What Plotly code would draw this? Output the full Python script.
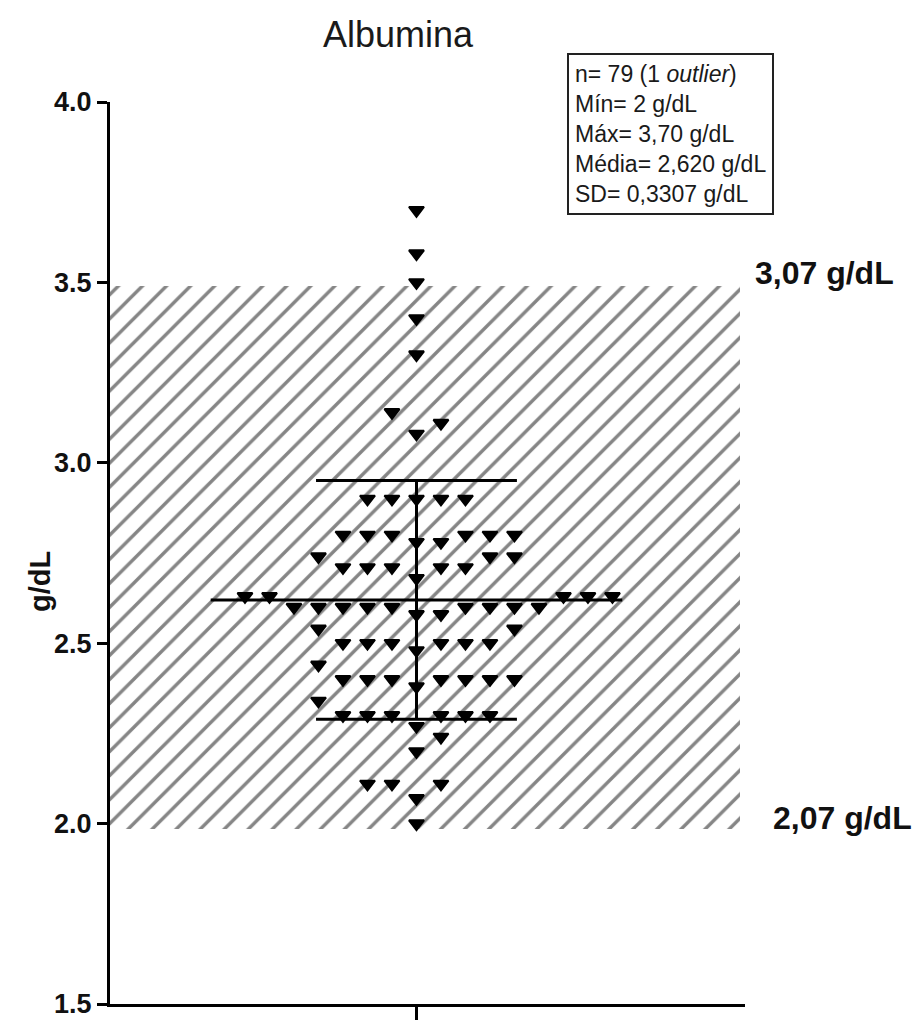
import numpy as np
import plotly.graph_objects as go

# ---------------- data ----------------
albumina_g_dl = [
    2.00,
    2.07, 2.11, 2.11, 2.11,
    2.20, 2.24,
    2.27, 2.30, 2.30, 2.30, 2.30, 2.30, 2.30, 2.34,
    2.38, 2.40, 2.40, 2.40, 2.40, 2.40, 2.40, 2.40, 2.44,
    2.48, 2.50, 2.50, 2.50, 2.50, 2.50, 2.50, 2.54, 2.54,
    2.58, 2.58, 2.60, 2.60, 2.60, 2.60, 2.60, 2.60, 2.60, 2.60, 2.60,
    2.63, 2.63, 2.63, 2.63, 2.63,
    2.68, 2.71, 2.71, 2.71, 2.71, 2.71, 2.74, 2.74, 2.74,
    2.78, 2.78, 2.80, 2.80, 2.80, 2.80, 2.80, 2.80,
    2.90, 2.90, 2.90, 2.90, 2.90,
    3.08, 3.11, 3.14,
    3.30, 3.40, 3.50, 3.58, 3.70,
]
mean_value = 2.620
sd_value = 0.3307
band_upper = 3.49
band_lower = 1.985
band_upper_label = "3,07 g/dL"
band_lower_label = "2,07 g/dL"
stats_lines = [
    "n= 79 (1 <i>outlier</i>)",
    "Mín= 2 g/dL",
    "Máx= 3,70 g/dL",
    "Média= 2,620 g/dL",
    "SD= 0,3307 g/dL",
]
y_ticks = [1.5, 2.0, 2.5, 3.0, 3.5, 4.0]
title_text = "Albumina"
y_title = "g/dL"

# ---------------- column-scatter (swarm) placement ----------------
vals = np.array(albumina_g_dl, dtype=float)
bins = np.floor(vals * 10 + 0.5 + 1e-9).astype(int)
order_all = np.argsort(vals, kind="stable")
xs = np.zeros(len(vals))
direction = 1
for b in sorted(set(bins.tolist())):
    idx = [i for i in order_all if bins[i] == b]
    slots = [0]
    k = 1
    while len(slots) < len(idx):
        slots.append(direction * k)
        if len(slots) < len(idx):
            slots.append(-direction * k)
        k += 1
    for i, s in zip(idx, slots):
        xs[i] = s
    direction = -direction

# ---------------- geometry / style ----------------
FONT = "Liberation Sans, Arial, Helvetica, sans-serif"
W, H = 920, 1031
ML, MR, MT, MB = 110, 175, 102, 12
PW, PH = W - ML - MR, H - MT - MB
x_range = [-12.51, 13.41]
hatch_right = 13.2
mean_halfwidth = 8.4
sd_cap_halfwidth = 4.1


def px_x(p):
    return (p - ML) / PW


def px_y(p):
    return (H - MB - p) / PH


fig = go.Figure()

# hatched reference band
fig.add_trace(go.Bar(
    x=[(x_range[0] + hatch_right) / 2], y=[band_upper - band_lower], base=[band_lower],
    width=[hatch_right - x_range[0]],
    marker=dict(color="white", line=dict(width=0),
                pattern=dict(shape="/", size=17, solidity=0.2, fgcolor="#858585",
                             bgcolor="white", fillmode="replace")),
    hoverinfo="skip", showlegend=False,
))

line_style = dict(color="black", width=3)
# mean line
fig.add_trace(go.Scatter(x=[-mean_halfwidth, mean_halfwidth], y=[mean_value, mean_value],
                         mode="lines", line=line_style, showlegend=False, hoverinfo="skip"))
# SD whisker
fig.add_trace(go.Scatter(x=[0, 0], y=[mean_value - sd_value, mean_value + sd_value],
                         mode="lines", line=line_style, showlegend=False, hoverinfo="skip"))
for yv in (mean_value - sd_value, mean_value + sd_value):
    fig.add_trace(go.Scatter(x=[-sd_cap_halfwidth, sd_cap_halfwidth], y=[yv, yv],
                             mode="lines", line=line_style, showlegend=False, hoverinfo="skip"))

# points
fig.add_trace(go.Scatter(
    x=xs, y=vals, mode="markers",
    marker=dict(symbol="triangle-down", size=13, color="black",
                line=dict(color="black", width=2)),
    showlegend=False,
))

annotations = [
    dict(text=title_text, x=px_x(398), y=px_y(33), xref="paper", yref="paper",
         xanchor="center", yanchor="middle", showarrow=False,
         font=dict(family=FONT, size=36, color="#1a1a1a")),
    dict(text="<br>".join(stats_lines), x=px_x(567), y=px_y(52), xref="paper", yref="paper",
         xanchor="left", yanchor="top", align="left", showarrow=False,
         bordercolor="#222", borderwidth=2, borderpad=6, bgcolor="white",
         font=dict(family=FONT, size=23, color="#1a1a1a")),
    dict(text="<b>" + band_upper_label + "</b>", x=px_x(753), y=px_y(276), xref="paper",
         yref="paper", xanchor="left", yanchor="middle", showarrow=False,
         font=dict(family=FONT, size=32, color="#111")),
    dict(text="<b>" + band_lower_label + "</b>", x=px_x(771), y=px_y(830), xref="paper",
         yref="paper", xanchor="left", yanchor="middle", showarrow=False,
         font=dict(family=FONT, size=32, color="#111")),
    dict(text="<b>" + y_title + "</b>", x=px_x(40), y=px_y(590), xref="paper", yref="paper",
         xanchor="center", yanchor="middle", textangle=-90, showarrow=False,
         font=dict(family=FONT, size=29, color="#111")),
]

fig.update_layout(
    width=W, height=H,
    margin=dict(l=ML, r=MR, t=MT, b=MB, pad=0),
    paper_bgcolor="white", plot_bgcolor="white",
    annotations=annotations,
    bargap=0,
    xaxis=dict(range=x_range, showgrid=False, zeroline=False, showline=True,
               linecolor="black", linewidth=3, ticks="outside", tickvals=[0],
               ticklen=13, tickwidth=3, tickcolor="black", showticklabels=False,
               fixedrange=True),
    yaxis=dict(range=[1.5, 4.0], showgrid=False, zeroline=False, showline=True,
               linecolor="black", linewidth=3, ticks="outside", tickvals=y_ticks,
               ticktext=["<b>%.1f</b>" % t for t in y_ticks],
               ticklen=10, tickwidth=3, tickcolor="black",
               tickfont=dict(family=FONT, size=27, color="#111"), fixedrange=True),
)

fig.write_html("out.html")
